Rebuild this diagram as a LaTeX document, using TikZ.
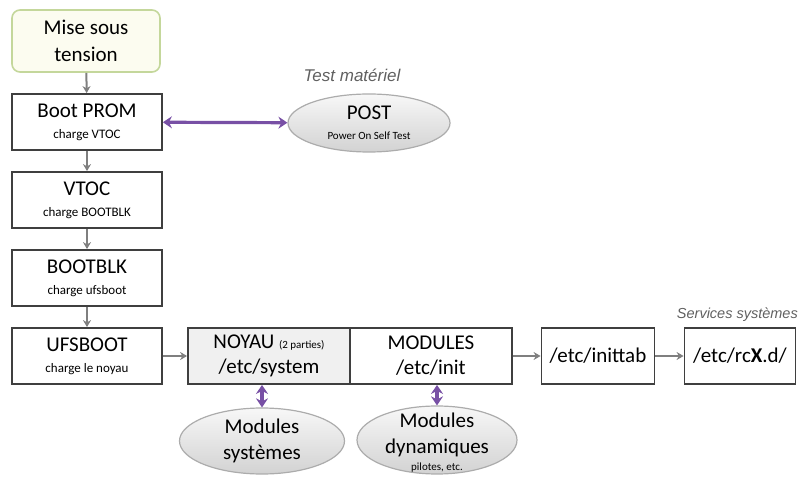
\documentclass[tikz,border=0pt]{standalone}
\usepackage{fontspec}
\setmainfont{Carlito}
\newfontfamily\notefont{Liberation Sans}
\usetikzlibrary{shapes.geometric,arrows.meta}
\definecolor{boxline}{HTML}{3F3F3F}
\definecolor{flowgray}{HTML}{7F7F7F}
\definecolor{lienviolet}{HTML}{7850A5}
\definecolor{startline}{HTML}{C4D79B}
\definecolor{startfill}{HTML}{FCFCF0}
\newcommand{\grand}{\fontsize{21}{25}\selectfont}
\newcommand{\petit}{\fontsize{13}{15}\selectfont}
\newcommand{\mini}{\fontsize{11}{13}\selectfont}

\begin{document}
\begin{tikzpicture}[x=1pt, y=-1pt,
	etape/.style={draw=boxline, line width=1.8pt, rectangle, align=center, minimum height=56pt, inner sep=0pt, font=\grand},
	bulle/.style={draw=gray!65, line width=1.2pt, ellipse, align=center, inner sep=0pt, font=\grand, top color=gray!6, bottom color=gray!35},
	suite/.style={draw=flowgray, line width=2pt, -{Stealth[length=7pt, width=8pt]}},
	lien/.style={draw=lienviolet, line width=3.2pt, {Stealth[length=9pt, width=12pt, inset=3pt]}-{Stealth[length=9pt, width=12pt, inset=3pt]}},
	note/.style={font=\notefont\fontsize{17}{19}\selectfont\itshape, text=gray!75!black}]
				\useasboundingbox (0,0) rectangle (801,481);
				\node[draw=startline, fill=startfill, line width=1.6pt, rounded corners=8pt, minimum width=148pt, minimum height=62pt, align=center, font=\grand] (MST)at(86, 41) {Mise sous\\[2pt]tension};
				\node[etape, minimum width=150pt] (PROM)at(87, 122) {Boot PROM\\[-4pt]{\petit charge VTOC}};
				\node[etape, minimum width=150pt] (VTOC)at(87, 200) {VTOC\\[-4pt]{\petit charge BOOTBLK}};
				\node[etape, minimum width=150pt] (BLK)at(87, 278) {BOOTBLK\\[-4pt]{\petit charge ufsboot}};
				\node[etape, minimum width=150pt] (UFS)at(87, 356) {UFSBOOT\\[-4pt]{\petit charge le noyau}};
				\node[etape, fill=gray!12, minimum width=162pt] (NOY)at(269, 356) {NOYAU {\mini (2 parties)}\\[0pt]/etc/system};
				\node[etape, minimum width=162pt] (MOD)at(431, 356) {MODULES\\[0pt]/etc/init};
				\node[etape, minimum width=113pt] (ITAB)at(598, 356) {/etc/inittab};
				\node[etape, minimum width=111pt] (RCX)at(740, 356) {/etc/rc\textbf{X}.d/};
				\node[bulle, minimum width=162pt, minimum height=58pt] (POST)at(369, 123) {POST\\[-5pt]{\mini Power On Self Test}};
				\node[bulle, minimum width=165pt, minimum height=66pt] (MSYS)at(262, 441) {Modules\\[1pt]systèmes};
				\node[bulle, minimum width=160pt, minimum height=68pt] (MDYN)at(437, 440) {};
				\node[align=center, inner sep=0pt, font=\grand] (MDYNT)at(437, 443) {Modules\\[1pt]dynamiques\\[-8pt]{\mini pilotes, etc.}};
				\node[note] (TST)at(352, 75) {Test matériel};
				\node[note, font=\notefont\fontsize{14.5}{17}\selectfont\itshape, anchor=east, inner sep=1pt] (SRV)at(799, 315) {Services systèmes};
				\draw[suite] (MST) -- (PROM);
				\draw[suite] (PROM) -- (VTOC);
				\draw[suite] (VTOC) -- (BLK);
				\draw[suite] (BLK) -- (UFS);
				\draw[suite] (UFS) -- (NOY);
				\draw[suite] (MOD) -- (ITAB);
				\draw[suite] (ITAB) -- (RCX);
				\draw[lien] (PROM) -- (POST);
				\draw[lien] (MSYS.north) -- (MSYS.north |- NOY.south);
				\draw[lien] (MDYN.north) -- (MDYN.north |- MOD.south);
			\end{tikzpicture}
\end{document}
